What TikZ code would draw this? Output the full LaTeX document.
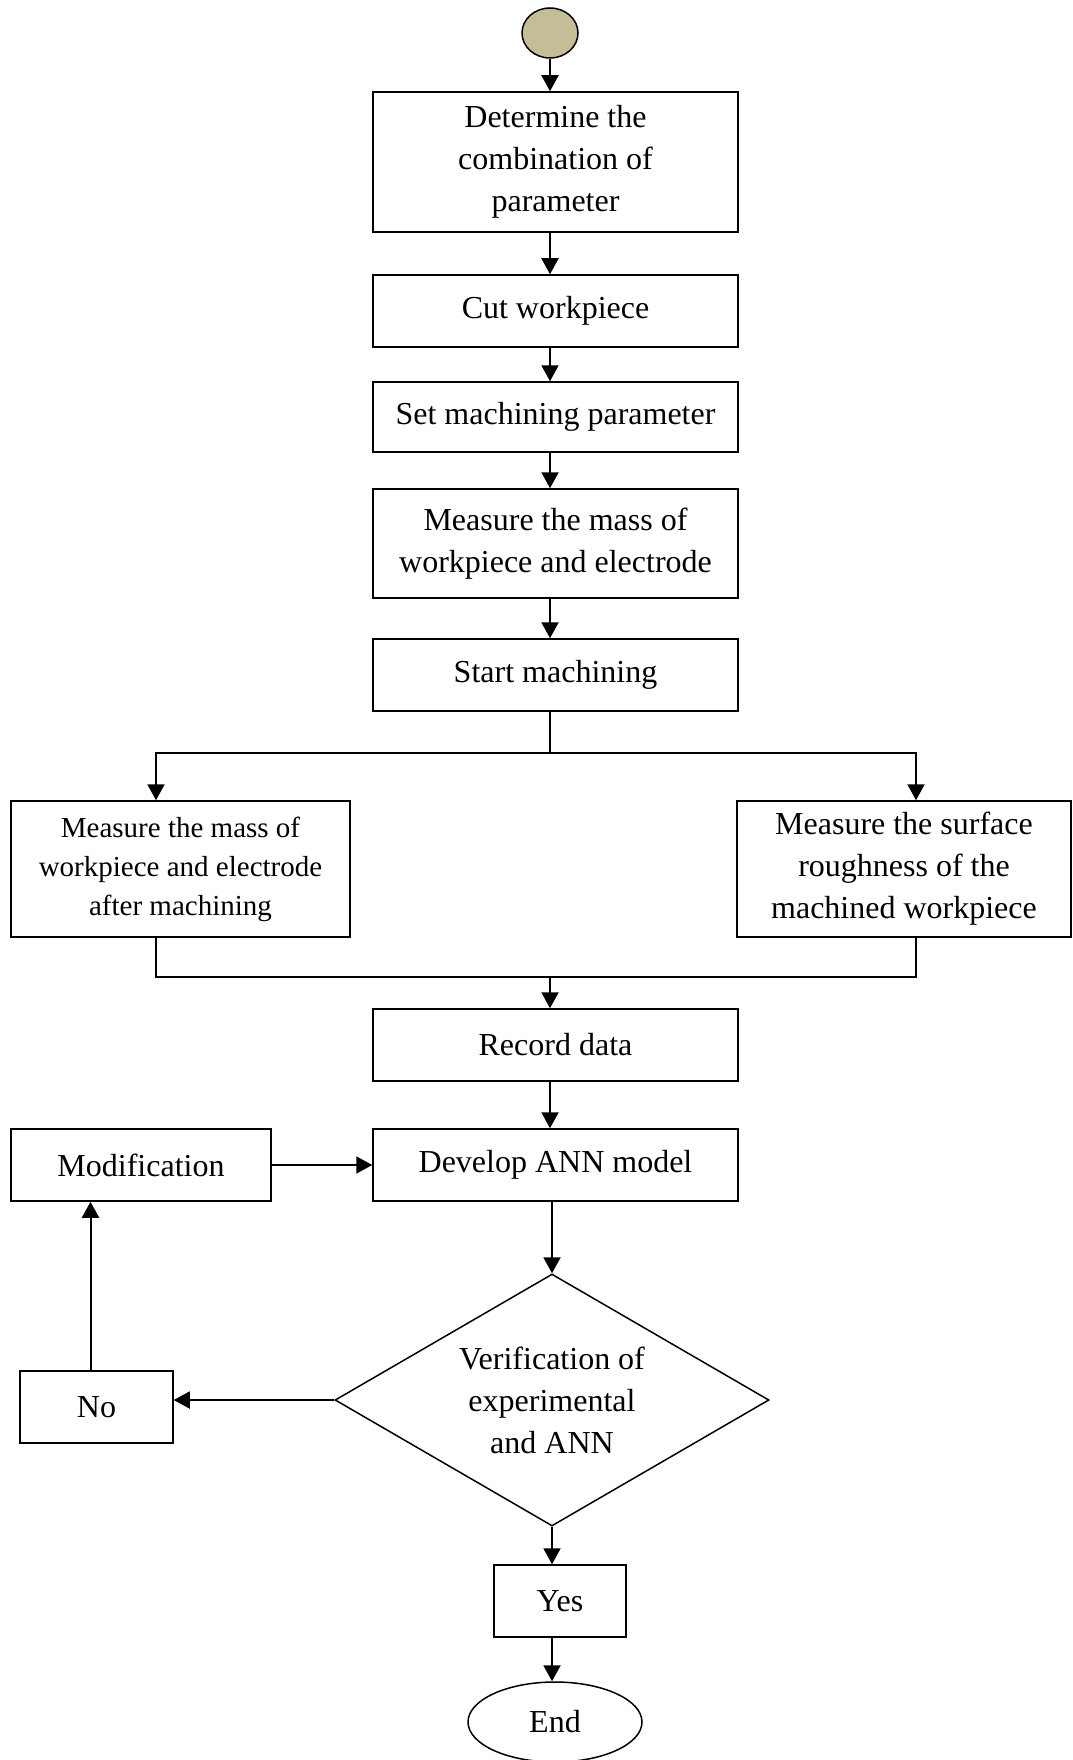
\documentclass[tikz,border=0pt]{standalone}
\usepackage{fontspec}
\setmainfont{Liberation Serif}
\usepackage{xcolor}
\usepackage{tikz}
\usetikzlibrary{arrows.meta,shapes}
\definecolor{startfill}{HTML}{C4BD97}

\begin{document}
\begin{tikzpicture}[x=1pt, y=-1pt,
	every node/.style={font=\fontsize{32}{42}\selectfont, align=center, inner sep=0pt},
	box/.style={draw, line width=1.5pt, rectangle, minimum width=365pt, minimum height=72pt},
	arrow/.style={line width=2pt, -{Triangle[length=16pt,width=17pt]}},
	link/.style={line width=1.8pt}]
	\useasboundingbox (0,0) rectangle (1072,1760);
	% main column
	\node[ellipse, draw, line width=1.5pt, fill=startfill, minimum width=56pt, minimum height=50pt] (start) at (550,33) {};
	\node[box, minimum height=140pt] (comb) at (555.5,162) {Determine the\\combination of\\parameter};
	\node[box] (cut) at (555.5,311) {Cut workpiece};
	\node[box, minimum height=70pt] (setp) at (555.5,417) {Set machining parameter};
	\node[box, minimum height=109pt] (mass) at (555.5,543.5) {Measure the mass of\\workpiece and electrode};
	\node[box] (mach) at (555.5,675) {Start machining};
	\node[box, minimum width=339pt, minimum height=136pt, font=\fontsize{29}{39}\selectfont] (after) at (180.5,869) {Measure the mass of\\workpiece and electrode\\after machining};
	\node[box, minimum width=334pt, minimum height=136pt] (rough) at (904,869) {Measure the surface\\roughness of the\\machined workpiece};
	\node[box] (record) at (555.5,1045) {Record data};
	\node[box] (ann) at (555.5,1165) {Develop ANN model};
	\node[box, minimum width=260pt] (modif) at (141,1165) {Modification};
	\node[diamond, draw, line width=1.5pt, aspect=1.72, minimum width=434pt, minimum height=252pt] (verif) at (552,1400) {Verification of\\experimental\\and ANN};
	\node[box, minimum width=153pt] (no) at (96.5,1407) {No};
	\node[box, minimum width=132pt] (yes) at (560,1601) {Yes};
	\node[ellipse, draw, line width=1.5pt, minimum width=174pt, minimum height=80pt] (end) at (555,1722) {End};
	\coordinate (splitL) at (156,753);
	\coordinate (splitR) at (916,753);
	\coordinate (joinL) at (156,977);
	\coordinate (joinR) at (916,977);
	% connectors
	\draw[arrow] (start) -- (start |- comb.north);
	\draw[arrow] (comb.south -| start) -- (start |- cut.north);
	\draw[arrow] (cut.south -| start) -- (start |- setp.north);
	\draw[arrow] (setp.south -| start) -- (start |- mass.north);
	\draw[arrow] (mass.south -| start) -- (start |- mach.north);
	\draw[link] (mach.south -| start) -- (start |- splitL);
	\draw[arrow] (start |- splitL) -- (splitL) -- (splitL |- after.north);
	\draw[arrow] (start |- splitR) -- (splitR) -- (splitR |- rough.north);
	\draw[link] (joinL |- after.south) -- (joinL) -- (joinR) -- (joinR |- rough.south);
	\draw[arrow] (start |- joinL) -- (start |- record.north);
	\draw[arrow] (record.south -| start) -- (start |- ann.north);
	\draw[arrow] (modif.east) -- (ann.west);
	\draw[arrow] (ann.south -| verif.north) -- (verif.north);
	\draw[arrow] (verif.west) -- (verif.west -| no.east);
	\draw[arrow] ([xshift=-6pt]no.north) -- ([xshift=-6pt]no.north |- modif.south);
	\draw[arrow] (verif.south) -- (verif.south |- yes.north);
	\draw[arrow] (yes.south -| verif.south) -- (verif.south |- end.north);
\end{tikzpicture}
\end{document}
